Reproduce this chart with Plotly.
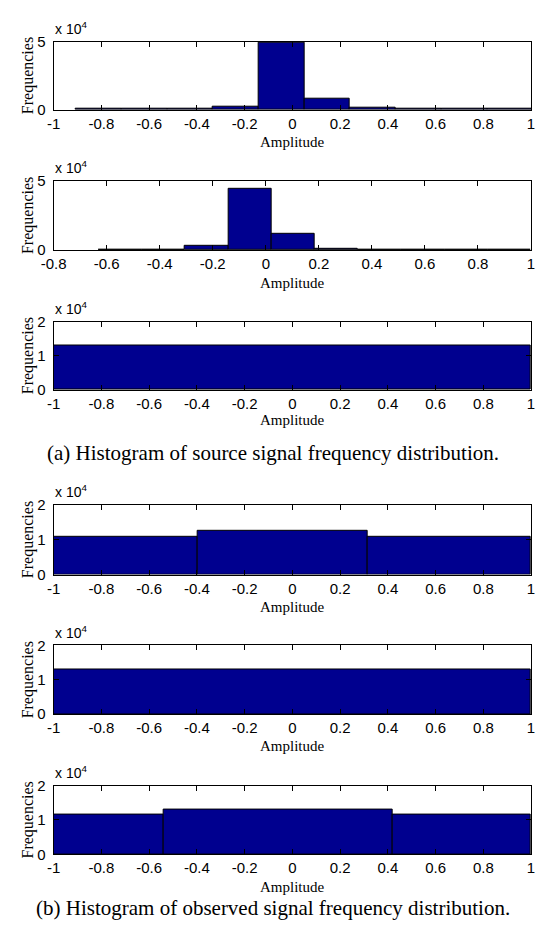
import plotly.graph_objects as go

W, H = 536, 933

# Bin edges and counts for each histogram (counts in samples)
src1_edges = [-0.907, -0.7155, -0.524, -0.3325, -0.141, 0.0505, 0.242, 0.4335, 0.625, 0.8165, 1.008]
src1_counts = [500, 500, 500, 1900, 49000, 8200, 1500, 500, 450, 450]

src2_edges = [-0.631, -0.468, -0.305, -0.142, 0.021, 0.184, 0.347, 0.51, 0.673, 0.836, 0.999]
src2_counts = [400, 450, 3300, 44600, 11700, 1200, 450, 400, 400, 400]

src3_edges = [-1.0, 1.0]
src3_counts = [13100]

obs1_edges = [-1.0, -0.397, 0.315, 1.0]
obs1_counts = [10800, 12400, 10800]

obs2_edges = [-1.0, 1.0]
obs2_counts = [13100]

obs3_edges = [-1.0, -0.54, 0.422, 1.0]
obs3_counts = [11500, 13100, 11500]

# Axis ticks
x_ticks_full = [-1, -0.8, -0.6, -0.4, -0.2, 0, 0.2, 0.4, 0.6, 0.8, 1]
x_labels_full = ["-1", "-0.8", "-0.6", "-0.4", "-0.2", "0", "0.2", "0.4", "0.6", "0.8", "1"]
x_ticks_src2 = [-0.8, -0.6, -0.4, -0.2, 0, 0.2, 0.4, 0.6, 0.8, 1]
x_labels_src2 = ["-0.8", "-0.6", "-0.4", "-0.2", "0", "0.2", "0.4", "0.6", "0.8", "1"]
y_ticks_big = [0, 50000]
y_labels_big = ["0", "5"]
y_ticks_small = [0, 10000, 20000]
y_labels_small = ["0", "1", "2"]

captions = [
    "(a) Histogram of source signal frequency distribution.",
    "(b) Histogram of observed signal frequency distribution.",
]

BAR_COLOR = "#00008F"
SANS = "Liberation Sans, Arial, sans-serif"
SERIF = "Liberation Serif, Times New Roman, serif"

# panel definitions: edges, counts, x range, x ticks, y range, y ticks,
# pixel top/bottom of the plot box, offset of the x title below the box
panels = [
    (src1_edges, src1_counts, [-1, 1], x_ticks_full, x_labels_full, [0, 50000], y_ticks_big, y_labels_big, 33.3, 102.5, 33),
    (src2_edges, src2_counts, [-0.8, 1], x_ticks_src2, x_labels_src2, [0, 50000], y_ticks_big, y_labels_big, 175.0, 245.7, 33),
    (src3_edges, src3_counts, [-1, 1], x_ticks_full, x_labels_full, [0, 20000], y_ticks_small, y_labels_small, 318.3, 388.0, 31),
    (obs1_edges, obs1_counts, [-1, 1], x_ticks_full, x_labels_full, [0, 20000], y_ticks_small, y_labels_small, 505.0, 576.0, 33),
    (obs2_edges, obs2_counts, [-1, 1], x_ticks_full, x_labels_full, [0, 20000], y_ticks_small, y_labels_small, 648.3, 718.3, 32),
    (obs3_edges, obs3_counts, [-1, 1], x_ticks_full, x_labels_full, [0, 20000], y_ticks_small, y_labels_small, 791.0, 861.0, 33),
]

X_LEFT, X_RIGHT = 42.0, 535.0


def py(px):
    return 1 - px / H


def pxx(px):
    return px / W


fig = go.Figure()
annotations = []
layout_axes = {}

for i, (edges, counts, xr, xt, xl, yr, yt, yl, top, bot, title_off) in enumerate(panels, start=1):
    centers = [(a + b) / 2 for a, b in zip(edges[:-1], edges[1:])]
    widths = [b - a for a, b in zip(edges[:-1], edges[1:])]
    xa = "x" if i == 1 else f"x{i}"
    ya = "y" if i == 1 else f"y{i}"
    fig.add_trace(go.Bar(
        x=centers, y=counts, width=widths, xaxis=xa, yaxis=ya,
        marker=dict(color=BAR_COLOR, line=dict(color="black", width=1)),
        showlegend=False, hoverinfo="skip",
    ))
    axis_common = dict(
        showline=True, linecolor="black", linewidth=1, mirror="ticks",
        ticks="inside", ticklen=5, tickwidth=1, tickcolor="black",
        showgrid=False, zeroline=False, ticklabeloverflow="allow",
        tickfont=dict(family=SANS, size=15, color="black"),
    )
    layout_axes["xaxis" if i == 1 else f"xaxis{i}"] = dict(
        axis_common, domain=[pxx(X_LEFT), pxx(X_RIGHT)], range=xr,
        tickvals=xt, ticktext=xl, anchor=ya,
    )
    layout_axes["yaxis" if i == 1 else f"yaxis{i}"] = dict(
        axis_common, domain=[py(bot), py(top)], range=yr,
        tickvals=yt, ticktext=yl, anchor=xa, ticklabelstandoff=4,
    )
    # axis titles and exponent label
    annotations.append(dict(
        text="Amplitude", xref="paper", yref="paper",
        x=pxx((X_LEFT + X_RIGHT) / 2), y=py(bot + title_off),
        xanchor="center", yanchor="middle", showarrow=False,
        font=dict(family=SERIF, size=15, color="black"),
    ))
    annotations.append(dict(
        text="Frequencies", xref="paper", yref="paper",
        x=pxx(15), y=py((top + bot) / 2), textangle=-90,
        xanchor="center", yanchor="middle", showarrow=False,
        font=dict(family=SERIF, size=16, color="black"),
    ))
    annotations.append(dict(
        text="x 10<sup>4</sup>", xref="paper", yref="paper",
        x=pxx(41), y=py(top - 14),
        xanchor="left", yanchor="middle", showarrow=False,
        font=dict(family=SANS, size=14, color="black"),
    ))

for cap, ypx in zip(captions, [452, 916]):
    annotations.append(dict(
        text=cap, xref="paper", yref="paper", x=0.5, y=py(ypx),
        xanchor="center", yanchor="middle", showarrow=False,
        font=dict(family=SERIF, size=21, color="black"),
    ))

fig.update_layout(
    width=W, height=H,
    margin=dict(l=0, r=0, t=0, b=0),
    paper_bgcolor="white", plot_bgcolor="white",
    bargap=0, barmode="overlay",
    annotations=annotations,
    **layout_axes,
)

fig.write_html("out.html")
